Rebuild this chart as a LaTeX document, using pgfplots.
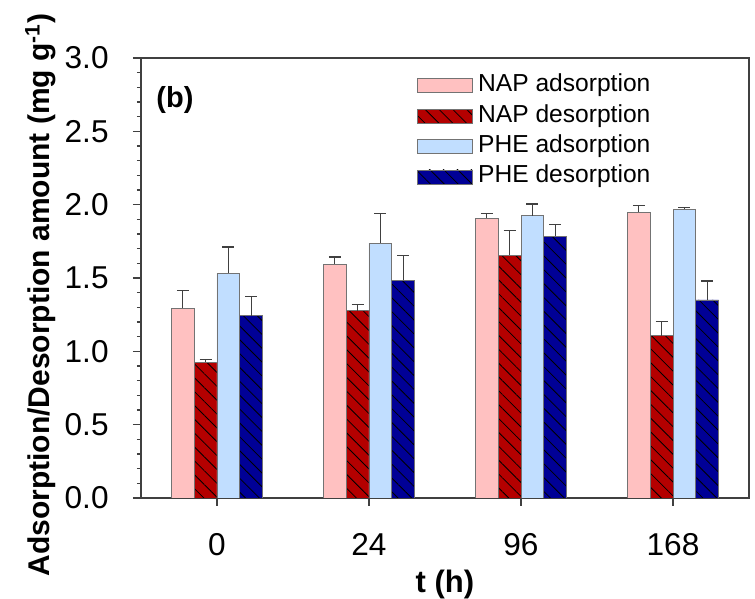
\documentclass[border=0pt]{standalone}
\usepackage{pgfplots}
\pgfplotsset{compat=1.18}
\usepackage{fontspec}
\setmainfont{Liberation Sans}
\usetikzlibrary{patterns.meta}
\definecolor{napads}{RGB}{255,193,193}
\definecolor{napdes}{RGB}{180,0,0}
\definecolor{pheads}{RGB}{193,222,255}
\definecolor{phedes}{RGB}{0,0,150}
\definecolor{frame}{RGB}{64,64,64}
\pgfplotsset{
  myleg/.style={legend image code/.code={\draw[##1] (0pt,-3.5pt) rectangle (27.5pt,3.5pt);}},
  hatch/.style={postaction={pattern={Lines[angle=-45,distance=4.9pt,line width=0.4pt]},pattern color=black}},
}
\begin{document}
\begin{tikzpicture}
\begin{axis}[name=ax, scale only axis, width=304pt, height=220pt,
  ybar, bar width=0.15,
  xmin=-0.5, xmax=3.5, ymin=0, ymax=3,
  xtick={0,1,2,3}, xticklabels={0,24,96,168},
  ytick={0,0.5,1,1.5,2,2.5,3}, minor y tick num=4,
  xtick pos=left, ytick pos=left,
  tick align=outside, major tick length=4pt, minor tick length=2pt,
  axis line style={draw=frame, line width=0.6pt},
  every tick/.style={frame, line width=0.6pt},
  /pgf/number format/assume math mode=true,
  yticklabel style={/pgf/number format/fixed, /pgf/number format/fixed zerofill, /pgf/number format/precision=1},
  yticklabel style={font=\fontsize{15.8}{18}\selectfont, anchor=east, inner sep=0pt, xshift=-12pt},
  xticklabel style={font=\fontsize{15.8}{18}\selectfont, anchor=base, inner sep=0pt, yshift=-25pt},
  error bars/y dir=plus, error bars/y explicit,
  error bars/error bar style={draw=frame, line width=0.6pt},
  error bars/error mark options={rotate=90, mark size=3pt, draw=frame, line width=0.6pt},
  legend style={at={(0.444,0.977)}, anchor=north west, draw=none, fill=none,
    font=\fontsize{12.3}{14}\selectfont, row sep=2pt,
    nodes={inner sep=1pt, text height=8.6pt, text depth=2.6pt}},
  legend cell align=left,
]
\addplot[fill=napads, draw=black!55, line width=0.4pt, bar shift=-0.225, myleg]
  coordinates {(0,1.293) +- (0,0.12) (1,1.593) +- (0,0.05) (2,1.907) +- (0,0.035) (3,1.947) +- (0,0.045)};
\addplot[fill=napdes, draw=black!55, line width=0.4pt, bar shift=-0.075, hatch, myleg]
  coordinates {(0,0.925) +- (0,0.02) (1,1.277) +- (0,0.045) (2,1.656) +- (0,0.17) (3,1.106) +- (0,0.10)};
\addplot[fill=pheads, draw=black!55, line width=0.4pt, bar shift=0.075, myleg]
  coordinates {(0,1.532) +- (0,0.18) (1,1.738) +- (0,0.20) (2,1.924) +- (0,0.08) (3,1.968) +- (0,0.01)};
\addplot[fill=phedes, draw=black!55, line width=0.4pt, bar shift=0.225, hatch, myleg]
  coordinates {(0,1.243) +- (0,0.13) (1,1.486) +- (0,0.17) (2,1.786) +- (0,0.08) (3,1.350) +- (0,0.13)};
\legend{\hspace{1.5pt}NAP adsorption, \hspace{1.5pt}NAP desorption, \hspace{1.5pt}PHE adsorption, \hspace{1.5pt}PHE desorption}
\end{axis}
\node[anchor=west, inner sep=0pt, font=\fontsize{14.5}{17}\selectfont\bfseries] at ([shift={(7.5pt,-21pt)}]ax.north west) {(b)};
\node[rotate=90, anchor=base west, inner sep=0pt, font=\fontsize{15}{18}\selectfont\bfseries] at ([shift={(-45.5pt,-39.5pt)}]ax.south west) {Adsorption/Desorption amount (mg g\textsuperscript{-1})};
\node[anchor=base, inner sep=0pt, font=\fontsize{15.5}{18}\selectfont\bfseries] at ([shift={(0pt,-47.5pt)}]ax.south) {t (h)};
\pgfresetboundingbox
\path[use as bounding box] ([shift={(-70.5pt,-50.5pt)}]ax.south west) rectangle ([shift={(3pt,29pt)}]ax.north east);
\end{tikzpicture}
\end{document}
